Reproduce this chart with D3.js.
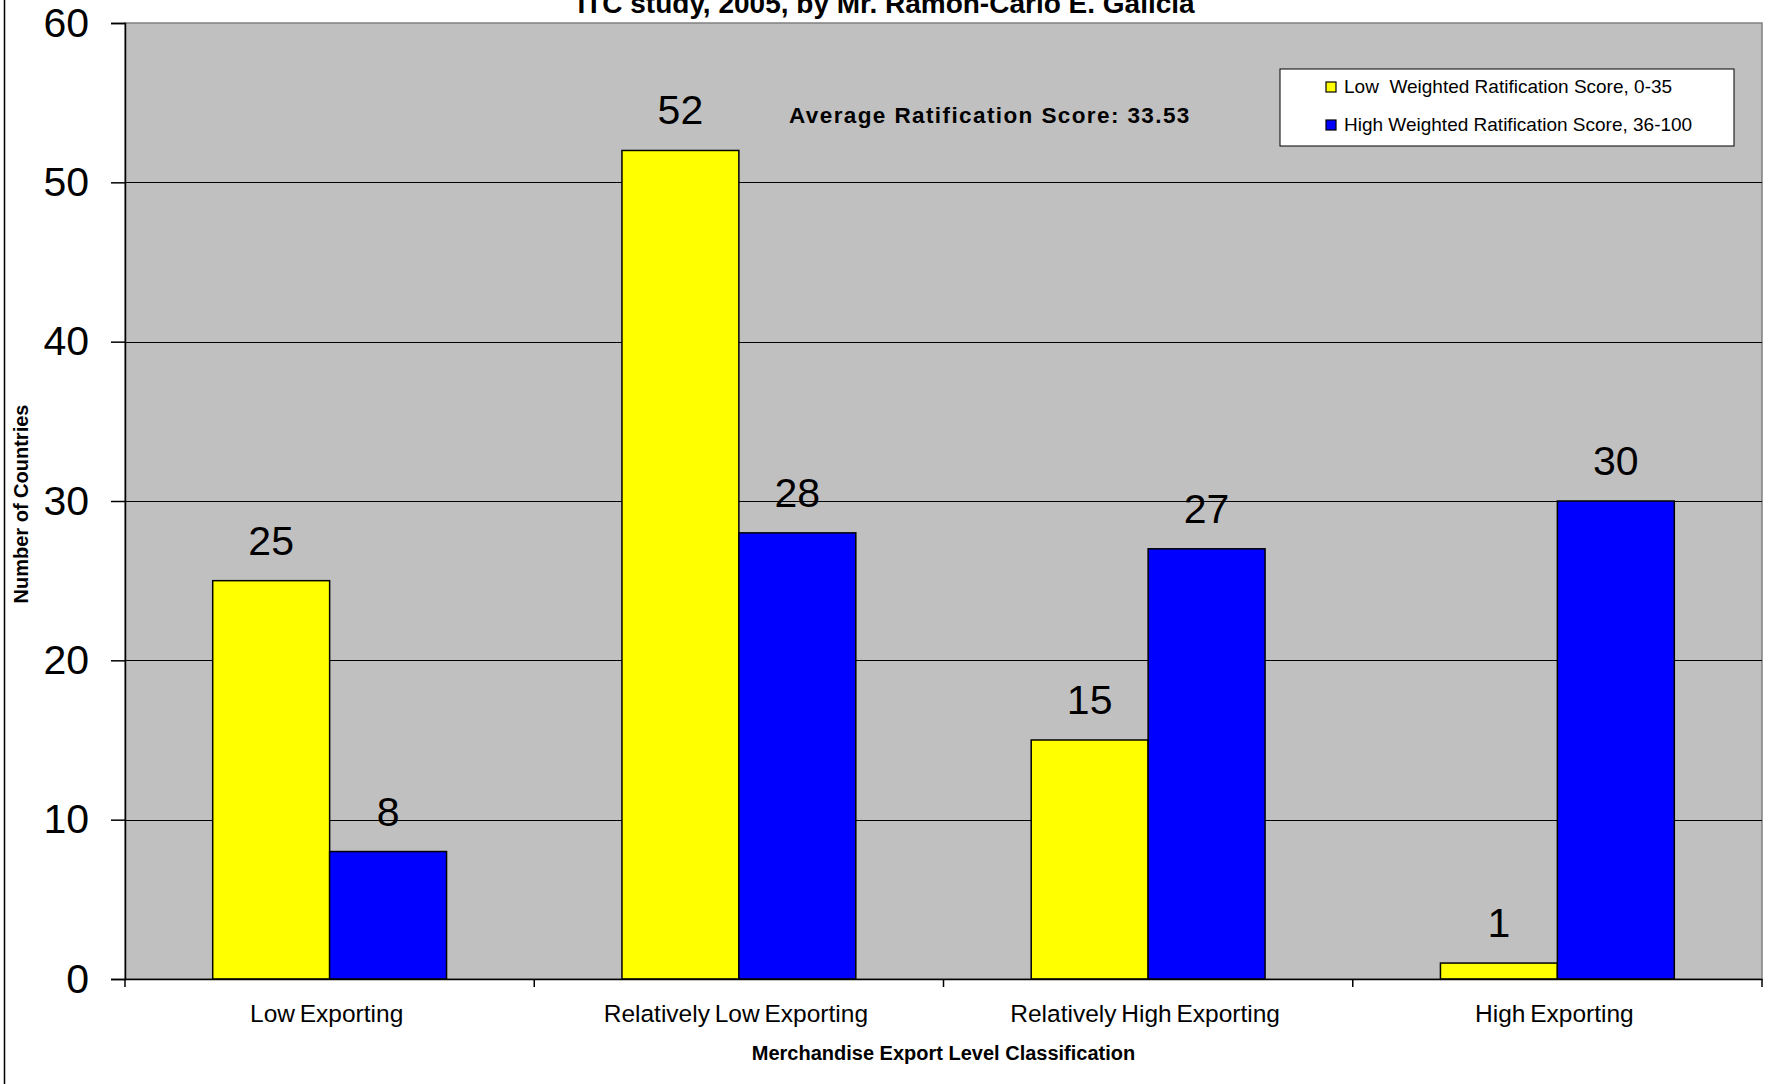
<!DOCTYPE html>
<html>
<head>
<meta charset="utf-8">
<script src="https://cdn.jsdelivr.net/npm/d3@7"></script>
<style>
body { margin: 0; background: #fff; }
svg { display: block; font-family: "Liberation Sans", Arial, sans-serif; }
</style>
</head>
<body>
<svg id="chart" width="1769" height="1084"></svg>
<script>
// chart data
var categories = ['Low Exporting', 'Relatively Low Exporting', 'Relatively High Exporting', 'High Exporting'];
var seriesNames = ['Low  Weighted Ratification Score, 0-35', 'High Weighted Ratification Score, 36-100'];
var lowScore = [25, 52, 15, 1];
var highScore = [8, 28, 27, 30];
var yTicks = [0, 10, 20, 30, 40, 50, 60];
var seriesColors = ['#ffff00', '#0000ff'];
var titleText = 'ITC study, 2005, by Mr. Ramon-Carlo E. Galicia';
var noteText = 'Average Ratification Score: 33.53';

var svg = d3.select('#chart');
var plotLeft = 125, plotRight = 1762, plotTop = 23, plotBottom = 979;

var x = d3.scaleBand().domain(categories).range([plotLeft, plotRight]).padding(0);
var xInner = d3.scaleBand().domain([0, 1]).range([0, x.bandwidth()]).paddingInner(0).paddingOuter(0.75);
var y = d3.scaleLinear().domain([0, 60]).range([plotBottom, plotTop]);

var rows = categories.map(function(c, i) {
	return {cat: c, values: [lowScore[i], highScore[i]]};
});

// left border of chart area
svg.append('line')
	.attr('x1', 4.5).attr('x2', 4.5)
	.attr('y1', 0).attr('y2', 1084)
	.style('stroke', '#000').style('stroke-width', 1.5);

// plot area
svg.append('rect')
	.attr('x', plotLeft).attr('y', plotTop)
	.attr('width', plotRight - plotLeft).attr('height', plotBottom - plotTop)
	.style('fill', '#c0c0c0')
	.style('stroke', '#808080').style('stroke-width', 1.5);

svg.append('g').selectAll('.grid')
	.data(yTicks.filter(function(d) { return d > 0 && d < 60; }))
	.enter().append('line')
	.attr('class', 'grid')
	.attr('x1', plotLeft).attr('x2', plotRight)
	.attr('y1', function(d) { return Math.round(y(d)) + 0.5; })
	.attr('y2', function(d) { return Math.round(y(d)) + 0.5; })
	.style('stroke', '#000').style('stroke-width', 1);

// bars
var groups = svg.append('g').selectAll('.cat')
	.data(rows)
	.enter().append('g')
	.attr('class', 'cat')
	.attr('transform', function(d) { return 'translate(' + x(d.cat) + ',0)'; });

groups.selectAll('rect')
	.data(function(d) { return d.values; })
	.enter().append('rect')
	.attr('x', function(d, i) { return xInner(i); })
	.attr('y', function(d) { return y(d); })
	.attr('width', xInner.bandwidth())
	.attr('height', function(d) { return plotBottom - y(d); })
	.style('fill', function(d, i) { return seriesColors[i]; })
	.style('stroke', '#000').style('stroke-width', 1.5);

groups.selectAll('.val')
	.data(function(d) { return d.values; })
	.enter().append('text')
	.attr('class', 'val')
	.attr('x', function(d, i) { return xInner(i) + xInner.bandwidth() / 2; })
	.attr('y', function(d) { return y(d) - 26; })
	.attr('text-anchor', 'middle')
	.style('font-size', '41px')
	.style('fill', '#000')
	.text(function(d) { return d; });

// y axis
var yAxis = svg.append('g')
	.attr('transform', 'translate(' + plotLeft + ',0)')
	.call(d3.axisLeft(y).tickValues(yTicks).tickSize(14).tickPadding(22));
yAxis.select('.domain').style('stroke', '#000').style('stroke-width', 1.5);
yAxis.selectAll('.tick line').style('stroke', '#000').style('stroke-width', 1.5);
yAxis.selectAll('.tick text')
	.style('font-size', '41px')
	.style('font-family', '"Liberation Sans", Arial, sans-serif')
	.style('fill', '#000');

// x axis
var xAxis = svg.append('g')
	.attr('transform', 'translate(0,' + plotBottom + ')')
	.call(d3.axisBottom(x).tickSize(0).tickPadding(26));
xAxis.select('.domain').style('stroke', '#000').style('stroke-width', 1.5);
xAxis.selectAll('.tick text')
	.attr('dx', -3)
	.style('font-size', '24.5px')
	.style('font-family', '"Liberation Sans", Arial, sans-serif')
	.style('word-spacing', '-2px')
	.style('fill', '#000');

var edges = categories.map(function(c) { return x(c); }).concat([plotRight]);
xAxis.selectAll('.edge')
	.data(edges)
	.enter().append('line')
	.attr('class', 'edge')
	.attr('x1', function(d) { return d; }).attr('x2', function(d) { return d; })
	.attr('y1', 0).attr('y2', 8)
	.style('stroke', '#000').style('stroke-width', 1.5);

// titles
svg.append('text')
	.attr('x', 886).attr('y', 13)
	.attr('text-anchor', 'middle')
	.style('font-size', '28px').style('font-weight', 'bold')
	.text(titleText);

svg.append('text')
	.attr('x', (plotLeft + plotRight) / 2).attr('y', 1060)
	.attr('text-anchor', 'middle')
	.style('font-size', '20px').style('font-weight', 'bold')
	.text('Merchandise Export Level Classification');

svg.append('text')
	.attr('transform', 'translate(28,504) rotate(-90)')
	.attr('text-anchor', 'middle')
	.style('font-size', '20px').style('font-weight', 'bold')
	.text('Number of Countries');

svg.append('text')
	.attr('x', 789).attr('y', 123)
	.style('font-size', '22.5px').style('font-weight', 'bold')
	.style('letter-spacing', '1.4px')
	.text(noteText);

// legend
var legend = svg.append('g').attr('transform', 'translate(1280,69)');
legend.append('rect')
	.attr('width', 454).attr('height', 77)
	.style('fill', '#fff').style('stroke', '#000').style('stroke-width', 1);

var items = legend.selectAll('.item')
	.data(seriesNames)
	.enter().append('g')
	.attr('class', 'item')
	.attr('transform', function(d, i) { return 'translate(46,' + (13 + i * 38) + ')'; });

items.append('rect')
	.attr('width', 10).attr('height', 10)
	.style('fill', function(d, i) { return seriesColors[i]; })
	.style('stroke', '#000').style('stroke-width', 1.2);

items.append('text')
	.attr('x', 18).attr('y', 11)
	.style('font-size', '19px')
	.style('white-space', 'pre')
	.text(function(d) { return d; });
</script>
</body>
</html>
